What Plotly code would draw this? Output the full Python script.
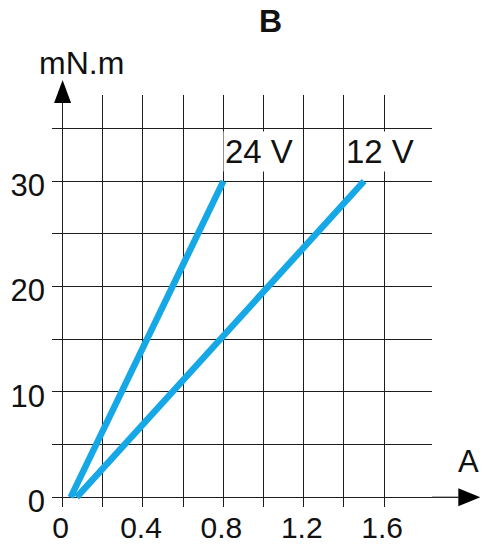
import plotly.graph_objects as go

# Data
current_24v = [0.04, 0.8]      # A
torque_24v = [0, 30]           # mN.m
current_12v = [0.07, 1.5]      # A
torque_12v = [0, 30]           # mN.m

x_tickvals = [0, 0.2, 0.4, 0.6, 0.8, 1.0, 1.2, 1.4, 1.6]
x_ticktext = ['0', '', '0.4', '', '0.8', '', '1.2', '', '1.6']
y_tickvals = [0, 5, 10, 15, 20, 25, 30, 35]
y_ticktext = ['0', '', '10', '', '20', '', '30', '']

series_labels = ['24 V', '12 V']
label_x = [0.8, 1.4]
label_y = [32.8, 32.8]

LINE_COLOR = '#16a8e6'
GRID_COLOR = '#1e1e1e'
FONT = 'Liberation Sans, Arial, sans-serif'

fig = go.Figure()
fig.add_trace(go.Scatter(x=current_24v, y=torque_24v, mode='lines',
                         line=dict(color=LINE_COLOR, width=6.5), showlegend=False))
fig.add_trace(go.Scatter(x=current_12v, y=torque_12v, mode='lines',
                         line=dict(color=LINE_COLOR, width=6.5), showlegend=False))

annotations = []
for t, lx, ly in zip(series_labels, label_x, label_y):
    annotations.append(dict(x=lx, y=ly, xref='x', yref='y', text=t, showarrow=False,
                            xanchor='left', yanchor='middle', bgcolor='white',
                            borderpad=1, font=dict(size=33, color='#111', family=FONT)))
annotations += [
    dict(x=0.5745, y=1.1796, xref='paper', yref='paper', text='<b>B</b>', showarrow=False,
         xanchor='center', yanchor='middle', font=dict(size=32, color='#111', family=FONT)),
    dict(x=0.0787, y=1.0769, xref='paper', yref='paper', text='mN.m', showarrow=False,
         xanchor='center', yanchor='middle', font=dict(size=32, color='#111', family=FONT)),
    dict(x=1.1297, y=0.11, xref='paper', yref='paper', text='A', showarrow=False,
         xanchor='right', yanchor='middle', font=dict(size=31, color='#111', family=FONT)),
]

shapes = [
    # y axis extension + arrow head
    dict(type='line', xref='x', yref='paper', x0=0, x1=0, y0=1, y1=1.02,
         line=dict(color=GRID_COLOR, width=1.3)),
    dict(type='path', xref='x', yref='paper',
         path='M -0.0423,0.9806 L 0.0423,0.9806 L 0,1.0364 Z',
         fillcolor='#000', line=dict(width=0)),
    # x axis extension + arrow head
    dict(type='line', xref='paper', yref='y', x0=1, x1=1.07, y0=0, y1=0,
         line=dict(color=GRID_COLOR, width=1.3)),
    dict(type='path', xref='paper', yref='y',
         path='M 1.0692,-0.854 L 1.0692,0.854 L 1.1271,0 Z',
         fillcolor='#000', line=dict(width=0)),
]

fig.update_layout(
    width=482, height=544,
    margin=dict(l=51.7, r=50.3, t=95, b=37, autoexpand=False),
    paper_bgcolor='white', plot_bgcolor='white',
    font=dict(family=FONT, color='#111'),
    annotations=annotations, shapes=shapes,
    xaxis=dict(range=[-0.0527, 1.838], tickvals=x_tickvals, ticktext=x_ticktext,
               showgrid=True, gridcolor=GRID_COLOR, gridwidth=1.3, zeroline=False,
               showline=False, ticks='', tickfont=dict(size=30, color='#111', family=FONT),
               ticklabelstandoff=0, ticklabelshift=-2, fixedrange=True, automargin=False),
    yaxis=dict(range=[-0.92, 38.17], tickvals=y_tickvals, ticktext=y_ticktext,
               showgrid=True, gridcolor=GRID_COLOR, gridwidth=1.3, zeroline=False,
               showline=False, ticks='', tickfont=dict(size=31, color='#111', family=FONT),
               ticklabelstandoff=6, ticklabelshift=4, fixedrange=True, automargin=False),
)

fig.write_html('out.html', config={'displayModeBar': False},
               post_script="document.body.style.margin='0';document.body.style.overflow='hidden';")
